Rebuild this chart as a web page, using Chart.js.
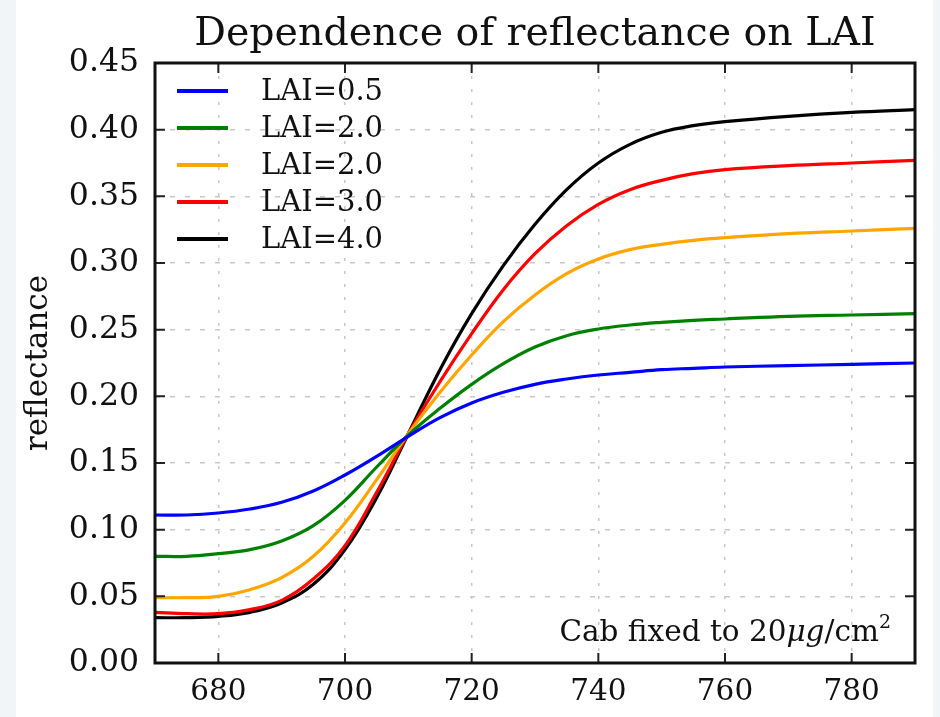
<!DOCTYPE html>
<html>
<head>
<meta charset="utf-8">
<script src="https://cdn.jsdelivr.net/npm/chart.js@4.4.1/dist/chart.umd.min.js"></script>
<style>
  html, body { margin: 0; padding: 0; background: #fff; }
  #wrap { width: 940px; height: 717px; }
</style>
</head>
<body>
<div id="wrap"><canvas id="chart" width="940" height="717"></canvas></div>
<script>
// wavelength (nm)
const wavelengths = [670, 675, 680, 685, 690, 695, 700, 705, 710, 715, 720, 725, 730, 735, 740, 745, 750, 755, 760, 770, 780, 790];
const xTickValues = [680, 700, 720, 740, 760, 780];

// reflectance
const lai05 = [0.111, 0.111, 0.1125, 0.1155, 0.1205, 0.129, 0.141, 0.155, 0.170, 0.184, 0.195, 0.203, 0.209, 0.213, 0.216, 0.218, 0.220, 0.221, 0.222, 0.223, 0.224, 0.225];
const lai20a = [0.080, 0.080, 0.082, 0.085, 0.0915, 0.103, 0.122, 0.147, 0.171, 0.191, 0.209, 0.2245, 0.237, 0.2455, 0.2505, 0.2535, 0.2555, 0.257, 0.258, 0.260, 0.261, 0.262];
const lai20b = [0.049, 0.049, 0.050, 0.055, 0.064, 0.080, 0.105, 0.1375, 0.172, 0.203, 0.231, 0.256, 0.276, 0.292, 0.303, 0.310, 0.314, 0.317, 0.319, 0.322, 0.324, 0.326];
const lai30 = [0.038, 0.037, 0.037, 0.040, 0.047, 0.063, 0.088, 0.128, 0.172, 0.211, 0.247, 0.280, 0.307, 0.328, 0.344, 0.355, 0.362, 0.367, 0.370, 0.373, 0.375, 0.377];
const lai40 = [0.034, 0.034, 0.035, 0.038, 0.045, 0.059, 0.085, 0.124, 0.172, 0.220, 0.262, 0.298, 0.329, 0.355, 0.375, 0.389, 0.398, 0.403, 0.406, 0.410, 0.413, 0.415];

const seriesLabels = ['LAI=0.5', 'LAI=2.0', 'LAI=2.0', 'LAI=3.0', 'LAI=4.0'];
const seriesColors = ['#0000ff', '#008000', '#ffa500', '#ff0000', '#000000'];
const seriesValues = [lai05, lai20a, lai20b, lai30, lai40];

const SERIF = '"DejaVu Serif", "Liberation Serif", serif';

// page background, title, frame with inward ticks, legend and note
const decorations = {
    id: 'decorations',
    beforeDraw(chart) {
        const ctx = chart.ctx;
        ctx.save();
        ctx.fillStyle = '#ffffff';
        ctx.fillRect(0, 0, chart.width, chart.height);
        ctx.fillStyle = '#f2f5f7';
        ctx.fillRect(0, 0, 16, chart.height);
        ctx.fillRect(933, 0, 7, chart.height);
        ctx.restore();
    },
    afterDatasetsDraw(chart) {
        const { ctx, chartArea: a, scales } = chart;
        ctx.save();
        // ticks pointing inwards on all four sides
        ctx.strokeStyle = '#222';
        ctx.lineWidth = 2;
        ctx.beginPath();
        scales.x.ticks.forEach(t => {
            const px = scales.x.getPixelForValue(t.value);
            ctx.moveTo(px, a.bottom); ctx.lineTo(px, a.bottom - 10);
            ctx.moveTo(px, a.top); ctx.lineTo(px, a.top + 10);
        });
        scales.y.ticks.forEach(t => {
            const py = scales.y.getPixelForValue(t.value);
            ctx.moveTo(a.left, py); ctx.lineTo(a.left + 10, py);
            ctx.moveTo(a.right, py); ctx.lineTo(a.right - 10, py);
        });
        ctx.stroke();
        // frame
        ctx.strokeStyle = '#111';
        ctx.lineWidth = 3;
        ctx.strokeRect(a.left, a.top, a.right - a.left, a.bottom - a.top);
        ctx.restore();
    },
    afterDraw(chart) {
        const { ctx, chartArea: a } = chart;
        ctx.save();
        ctx.fillStyle = '#111';

        // title
        ctx.font = '39.5px ' + SERIF;
        ctx.textAlign = 'center';
        ctx.textBaseline = 'middle';
        ctx.fillText('Dependence of reflectance on LAI', (a.left + a.right) / 2, 35);

        // legend
        ctx.font = '29px ' + SERIF;
        ctx.textAlign = 'left';
        chart.data.datasets.forEach((ds, i) => {
            const y = 91 + i * 37;
            ctx.strokeStyle = ds.borderColor;
            ctx.lineWidth = 4;
            ctx.beginPath();
            ctx.moveTo(177, y);
            ctx.lineTo(228, y);
            ctx.stroke();
            ctx.fillStyle = '#111';
            ctx.fillText(ds.label, 261, y + 1);
        });

        // note in the lower right corner, right edge at 890
        ctx.textBaseline = 'alphabetic';
        ctx.textAlign = 'left';
        const parts = [
            ['Cab fixed to 20', '29.5px ' + SERIF, 0],
            ['\u03bcg', 'italic 29.5px ' + SERIF, 0],
            ['/cm', '29.5px ' + SERIF, 0],
            ['2', '19px ' + SERIF, -13]
        ];
        let total = 0;
        parts.forEach(p => { ctx.font = p[1]; total += ctx.measureText(p[0]).width; });
        let x = 891 - total;
        const base = 641;
        parts.forEach(p => {
            ctx.font = p[1];
            ctx.fillText(p[0], x, base + p[2]);
            x += ctx.measureText(p[0]).width;
        });
        ctx.restore();
    }
};

const datasets = seriesValues.map((vals, i) => ({
    label: seriesLabels[i],
    data: wavelengths.map((w, j) => ({ x: w, y: vals[j] })),
    borderColor: seriesColors[i],
    backgroundColor: seriesColors[i],
    borderWidth: 3.2,
    pointRadius: 0,
    fill: false,
    tension: 0.4
}));

new Chart(document.getElementById('chart'), {
    type: 'line',
    data: { datasets },
    options: {
        responsive: false,
        animation: false,
        layout: { padding: { top: 63, right: 25, left: 0, bottom: 0 } },
        plugins: {
            legend: { display: false },
            title: { display: false },
            tooltip: { enabled: false }
        },
        scales: {
            x: {
                type: 'linear',
                min: 670,
                max: 790,
                afterBuildTicks: s => { s.ticks = xTickValues.map(v => ({ value: v })); },
                afterFit: s => { s.height = 54; },
                grid: { color: '#c8c8c8', lineWidth: 1.5, drawTicks: false },
                border: { display: false, dash: [3, 10] },
                ticks: {
                    padding: 12,
                    color: '#111',
                    font: { family: SERIF, size: 29.5 }
                }
            },
            y: {
                min: 0,
                max: 0.45,
                afterFit: s => { s.width = 155; },
                grid: { color: '#c8c8c8', lineWidth: 1.5, drawTicks: false },
                border: { display: false, dash: [5, 10] },
                title: {
                    display: true,
                    text: 'reflectance',
                    color: '#111',
                    font: { family: SERIF, size: 31 },
                    padding: { top: 20, bottom: 0 }
                },
                ticks: {
                    stepSize: 0.05,
                    padding: 16,
                    color: '#111',
                    font: { family: SERIF, size: 31.5 },
                    callback: v => v.toFixed(2)
                }
            }
        }
    },
    plugins: [decorations]
});
</script>
</body>
</html>
